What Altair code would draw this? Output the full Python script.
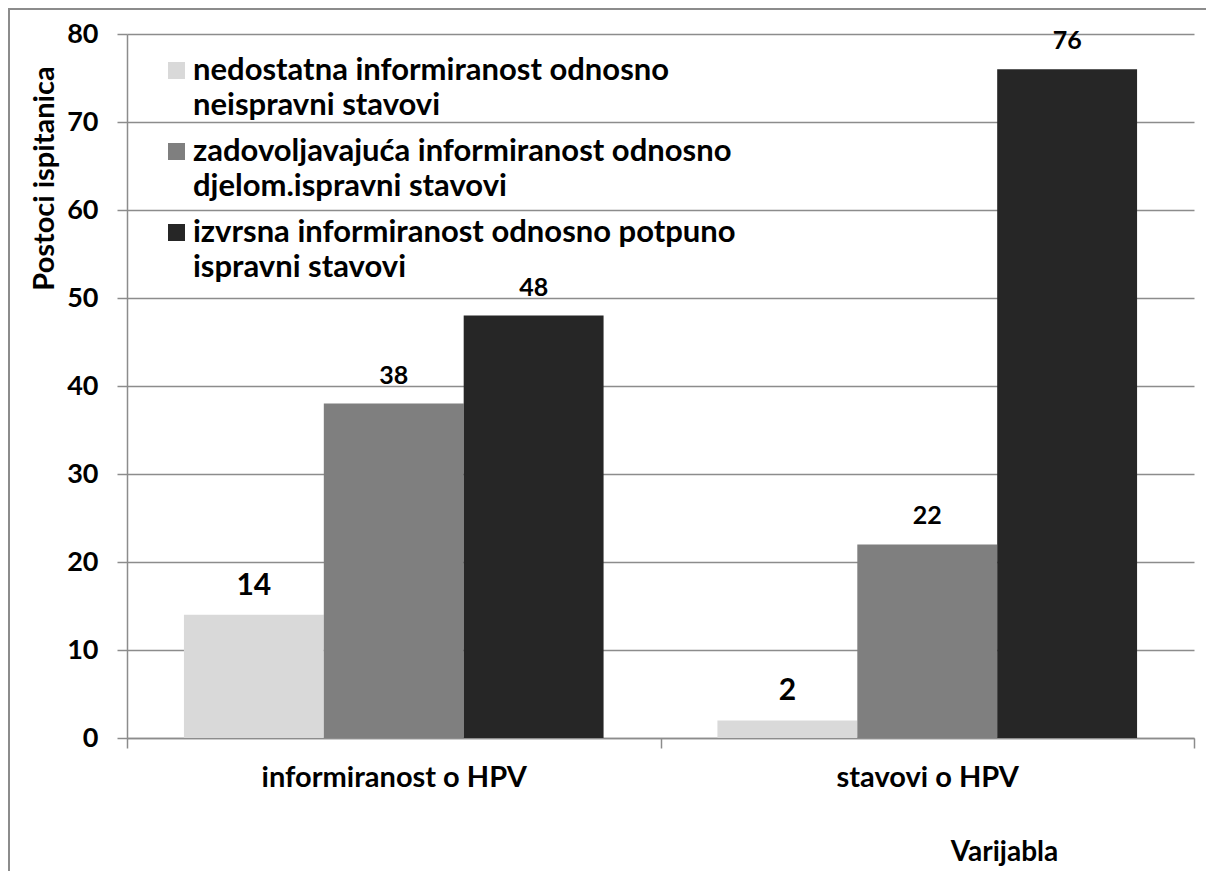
import altair as alt
import pandas as pd

categories = ["informiranost o HPV", "stavovi o HPV"]
series = [
    "nedostatna informiranost odnosno neispravni stavovi",
    "zadovoljavajuća informiranost odnosno djelom.ispravni stavovi",
    "izvrsna informiranost odnosno potpuno ispravni stavovi",
]
values_informiranost = [14, 38, 48]
values_stavovi = [2, 22, 76]
colors = ["#d9d9d9", "#7f7f7f", "#262626"]
y_ticks = [0, 10, 20, 30, 40, 50, 60, 70, 80]

rows = []
for cat, vals in zip(categories, [values_informiranost, values_stavovi]):
    for i, (s, v) in enumerate(zip(series, vals)):
        rows.append({"Varijabla": cat, "serija": s, "red": i, "vrijednost": v})
df = pd.DataFrame(rows)

FONT = "Lato"
GRID = "#8c8c8c"

x_enc = alt.X(
    "Varijabla:N",
    sort=categories,
    scale=alt.Scale(paddingInner=0, paddingOuter=0),
    axis=alt.Axis(
        title="Varijabla",
        labelAngle=0,
        labelLimit=600,
        labelFontSize=29,
        tickBand="extent",
        tickSize=10,
        labelPadding=15,
        titleX=877,
        titleY=114,
        titleFontSize=28,
        titleBaseline="middle",
        titleAlign="center",
    ),
)
xoff_enc = alt.XOffset(
    "serija:N", sort=series, scale=alt.Scale(paddingOuter=0.407, paddingInner=0)
)
y_enc = alt.Y(
    "vrijednost:Q",
    scale=alt.Scale(domain=[0, 80], nice=False),
    axis=alt.Axis(
        title="Postoci ispitanica",
        values=y_ticks,
        grid=True,
        tickSize=10,
        labelPadding=19,
        labelFontSize=27,
        titleX=-83,
        titleY=144,
        titleAngle=-90,
        titleAlign="center",
        titleBaseline="middle",
    ),
)

color_enc = alt.Color(
    "serija:N",
    sort=series,
    scale=alt.Scale(domain=series, range=colors),
    legend=alt.Legend(
        title=None,
        orient="none",
        legendX=34,
        legendY=21,
        symbolType="square",
        symbolSize=289,
        symbolStrokeWidth=0,
        labelFontSize=31,
        labelFont=FONT,
        labelFontWeight="bold",
        labelColor="black",
        labelLimit=900,
        labelOffset=1,
        rowPadding=14,
        labelExpr=(
            "[substring(datum.label, 0, lastindexof(substring(datum.label, 0, lastindexof(datum.label, ' ')), ' ')),"
            " substring(datum.label, lastindexof(substring(datum.label, 0, lastindexof(datum.label, ' ')), ' ') + 1)]"
        ),
    ),
)

bars = alt.Chart(df).mark_bar().encode(
    x=x_enc, xOffset=xoff_enc, y=y_enc, color=color_enc
)

labels = alt.Chart(df).mark_text(
    baseline="alphabetic", dy=-20, font=FONT, fontWeight="bold", color="black"
).encode(
    x=alt.X("Varijabla:N", sort=categories),
    xOffset=alt.XOffset("serija:N", sort=series),
    y=alt.Y("vrijednost:Q"),
    text=alt.Text("vrijednost:Q"),
    size=alt.condition(alt.datum.red == 0, alt.value(30), alt.value(25)),
)

frame = alt.Chart(df).mark_rect(
    filled=False, stroke=GRID, strokeWidth=1.5, clip=False
).encode(
    x=alt.value(-118), x2=alt.value(1500), y=alt.value(-25), y2=alt.value(1500)
)

chart = (
    alt.layer(frame, bars, labels)
    .properties(
        width=1067,
        height=704,
        padding={"left": 119, "top": 26, "right": 12, "bottom": 133},
        autosize=alt.AutoSizeParams(type="none"),
    )
    .configure(style={"guide-label": {"lineHeight": 35}})
    .configure_view(stroke=None)
    .configure_axis(
        labelFont=FONT,
        titleFont=FONT,
        labelFontWeight="bold",
        labelColor="black",
        titleFontSize=29,
        titleFontWeight="bold",
        titleColor="black",
        domainColor=GRID,
        domainWidth=1.5,
        tickColor=GRID,
        tickWidth=1.5,
        gridColor=GRID,
        gridWidth=1.5,
        gridOpacity=1,
    )
)

chart.save("out.html", embed_options={"renderer": "svg", "actions": False})
